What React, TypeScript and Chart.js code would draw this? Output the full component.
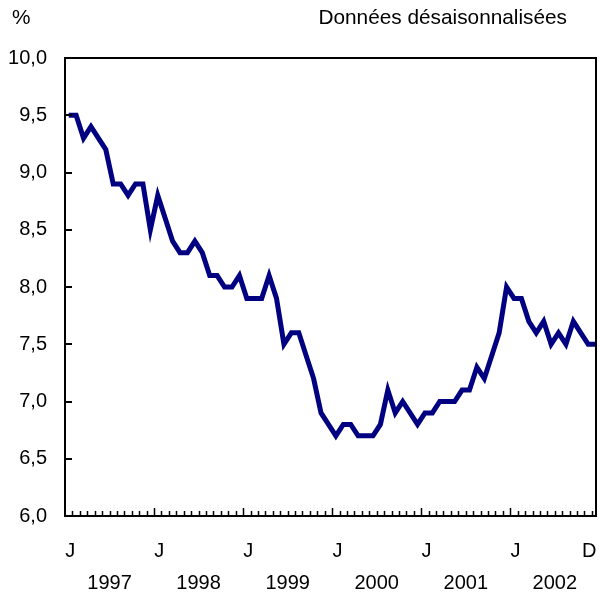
import React, { useEffect, useRef } from "react";
import { Chart, registerables } from "chart.js";

Chart.register(...registerables);

// Years and French month initials (janvier ... décembre)
const years = ["1997", "1998", "1999", "2000", "2001", "2002"];
const monthInitials = ["J", "F", "M", "A", "M", "J", "J", "A", "S", "O", "N", "D"];

// Monthly seasonally adjusted rate (%), Jan–Dec of each year
const rate1997 = [9.5, 9.5, 9.3, 9.4, 9.3, 9.2, 8.9, 8.9, 8.8, 8.9, 8.9, 8.5];
const rate1998 = [8.8, 8.6, 8.4, 8.3, 8.3, 8.4, 8.3, 8.1, 8.1, 8.0, 8.0, 8.1];
const rate1999 = [7.9, 7.9, 7.9, 8.1, 7.9, 7.5, 7.6, 7.6, 7.4, 7.2, 6.9, 6.8];
const rate2000 = [6.7, 6.8, 6.8, 6.7, 6.7, 6.7, 6.8, 7.1, 6.9, 7.0, 6.9, 6.8];
const rate2001 = [6.9, 6.9, 7.0, 7.0, 7.0, 7.1, 7.1, 7.3, 7.2, 7.4, 7.6, 8.0];
const rate2002 = [7.9, 7.9, 7.7, 7.6, 7.7, 7.5, 7.6, 7.5, 7.7, 7.6, 7.5, 7.5];

const yTickValues = [6.0, 6.5, 7.0, 7.5, 8.0, 8.5, 9.0, 9.5, 10.0];
const unitLabel = "%";
const noteLabel = "Données désaisonnalisées";

const FONT = "'Liberation Sans', Arial, sans-serif";

export default function App() {
  const canvasRef = useRef<HTMLCanvasElement | null>(null);

  useEffect(() => {
    const values = [...rate1997, ...rate1998, ...rate1999, ...rate2000, ...rate2001, ...rate2002];
    const points = values.map((v, i) => ({ x: i, y: v }));
    const lastIndex = values.length - 1;

    const decorations = {
      id: "decorations",
      afterDatasetsDraw(chart: any) {
        const { ctx, chartArea } = chart;
        const xs = chart.scales.x;
        const ys = chart.scales.y;
        const { left, right, top, bottom } = chartArea;
        ctx.save();
        ctx.strokeStyle = "#000";
        ctx.fillStyle = "#000";

        // y ticks (inward)
        ctx.lineWidth = 2;
        yTickValues.forEach((v) => {
          const y = Math.round(ys.getPixelForValue(v));
          ctx.beginPath();
          ctx.moveTo(left, y);
          ctx.lineTo(left + 7, y);
          ctx.stroke();
        });

        // monthly ticks at month boundaries (inward)
        ctx.lineWidth = 1.5;
        for (let i = 0; i <= values.length; i++) {
          const x = Math.round(xs.getPixelForValue(i - 0.5)) + 0.5;
          if (x > right - 1 || x < left + 1) continue;
          const len = i % 12 === 0 ? 8 : 5;
          ctx.beginPath();
          ctx.moveTo(x, bottom);
          ctx.lineTo(x, bottom - len);
          ctx.stroke();
        }

        // frame
        ctx.lineWidth = 2;
        ctx.strokeRect(left, top, right - left, bottom - top);

        // x labels: first month of each year and final month
        ctx.font = `20px ${FONT}`;
        ctx.textBaseline = "middle";
        ctx.textAlign = "center";
        const labelIdx: number[] = years.map((_, k) => k * 12);
        labelIdx.push(lastIndex);
        labelIdx.forEach((i) => {
          const txt = monthInitials[i % 12];
          const w = ctx.measureText(txt).width;
          let x = xs.getPixelForValue(i);
          x = Math.min(x, right - w / 2 - 1);
          ctx.fillText(txt, x + 1.5, bottom + 35);
        });

        // year labels centered on each year
        years.forEach((yr, k) => {
          const x = xs.getPixelForValue(k * 12 + 5.5);
          ctx.fillText(yr, x, bottom + 67);
        });

        // header texts
        ctx.font = `20.8px ${FONT}`;
        ctx.textAlign = "left";
        ctx.fillText(unitLabel, 12, top - 40);
        ctx.textAlign = "right";
        ctx.fillText(noteLabel, 567, top - 40);
        ctx.restore();
      },
    };

    const chart = new Chart(canvasRef.current as HTMLCanvasElement, {
      type: "line",
      data: {
        datasets: [
          {
            data: points,
            borderColor: "#000080",
            borderWidth: 5,
            pointRadius: 0,
            tension: 0,
            fill: false,
            borderJoinStyle: "miter",
          } as any,
        ],
      },
      options: {
        animation: false,
        responsive: true,
        maintainAspectRatio: false,
        layout: { padding: { top: 58, right: 4, bottom: 82, left: 0 } },
        plugins: { legend: { display: false }, tooltip: { enabled: false } },
        scales: {
          x: { type: "linear", min: -0.5, max: 71.05, display: false },
          y: {
            min: 6,
            max: 10,
            afterBuildTicks: (s: any) => {
              s.ticks = yTickValues.map((v) => ({ value: v }));
            },
            afterFit: (s: any) => {
              s.width = 65;
            },
            ticks: {
              color: "#000",
              padding: 18,
              font: { family: FONT, size: 20 },
              callback: (v: any) => Number(v).toFixed(1).replace(".", ","),
            },
            grid: { display: false, drawTicks: false },
            border: { display: false },
          },
        },
      },
      plugins: [decorations],
    });
    return () => chart.destroy();
  }, []);

  return (
    <div style={{ position: "absolute", left: 0, top: 0, width: 600, height: 598, background: "#fff" }}>
      <canvas ref={canvasRef} />
    </div>
  );
}
